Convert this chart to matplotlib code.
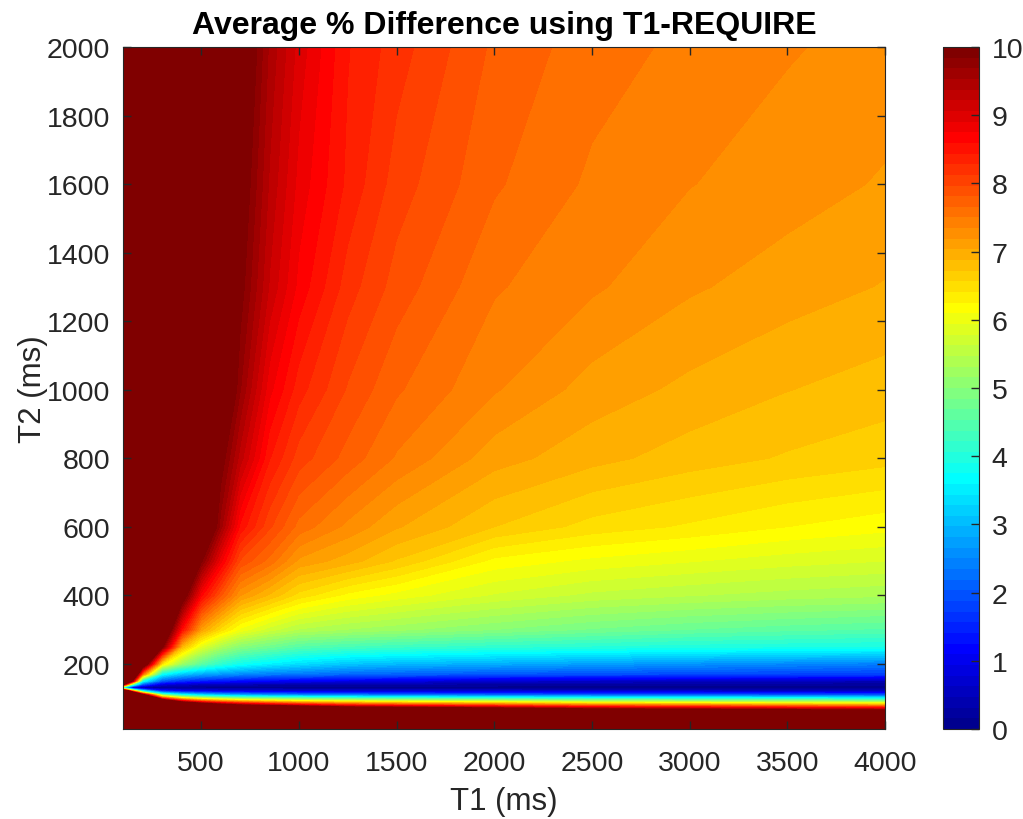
import numpy as np
import matplotlib
matplotlib.use('Agg')
import matplotlib.pyplot as plt
from matplotlib.colors import ListedColormap, Normalize
from matplotlib.cm import ScalarMappable

plt.rcParams['font.family'] = ['Liberation Sans', 'DejaVu Sans']

# grid (T1 across, T2 down the rows), values in %
t1 = [100, 150, 200, 300, 400, 500, 600, 700, 850, 1000, 1250, 1500, 2000, 2500, 3000, 3500, 4000]
t2 = [10, 50, 60, 70, 80, 90, 100, 110, 120, 130, 140, 150, 170, 200, 250, 300, 400, 500, 600, 800, 1000, 1300, 1600, 2000]

z_rows = {
    2000: [15, 15, 15, 14, 13, 12, 11, 10.3, 9.5, 9.0, 8.45, 8.2, 7.78, 7.57, 7.46, 7.36, 7.28],
    1600: [15, 15, 15, 14, 13, 12, 11, 10.1, 9.35, 8.85, 8.4, 8.05, 7.68, 7.47, 7.35, 7.26, 7.17],
    1300: [15, 15, 15, 14, 13, 12, 11, 9.95, 9.2, 8.7, 8.2, 7.9, 7.52, 7.37, 7.21, 7.11, 7.02],
    1000: [15, 15, 14, 13, 12, 11.5, 10.5, 9.7, 8.8, 8.35, 7.95, 7.68, 7.36, 7.12, 6.99, 6.88, 6.8],
    800:  [15, 15, 14, 13, 12, 11, 10.0, 9.3, 8.45, 8.05, 7.75, 7.48, 7.1, 6.93, 6.8, 6.7, 6.62],
    600:  [15, 14, 13, 12, 11.5, 10.8, 9.6, 8.55, 8.0, 7.6, 7.3, 7.05, 6.72, 6.5, 6.38, 6.25, 6.15],
    500:  [15, 14, 13, 12.5, 12, 9.9, 8.8, 7.95, 7.6, 7.15, 6.95, 6.7, 6.2, 6.05, 5.95, 5.85, 5.78],
    400:  [15, 14, 13.5, 13, 10.3, 8.65, 7.85, 7.2, 6.85, 6.5, 6.2, 6.03, 5.76, 5.58, 5.48, 5.4, 5.34],
    300:  [15, 14.5, 14, 11, 8.6, 7.1, 6.5, 6.05, 5.7, 5.45, 5.3, 5.2, 5.0, 4.82, 4.68, 4.58, 4.5],
    250:  [15, 15, 13, 10.0, 6.9, 5.9, 5.35, 5.0, 4.75, 4.5, 4.35, 4.25, 4.12, 4.03, 3.96, 3.92, 3.88],
    200:  [15, 14, 11, 6.4, 5.2, 4.55, 4.1, 3.8, 3.55, 3.35, 3.1, 2.98, 2.85, 2.72, 2.6, 2.5, 2.4],
    170:  [14, 12, 7.6, 3.7, 3.1, 2.8, 2.65, 2.5, 2.35, 2.3, 2.15, 2.08, 1.97, 1.9, 1.85, 1.8, 1.76],
    150:  [12, 9.5, 3.8, 2.0, 1.6, 1.4, 1.3, 1.2, 1.1, 1.0, 0.92, 0.85, 0.65, 0.6, 0.55, 0.5, 0.45],
    140:  [10, 4.5, 2.0, 0.8, 0.6, 0.5, 0.45, 0.4, 0.35, 0.32, 0.3, 0.28, 0.25, 0.22, 0.2, 0.2, 0.2],
    130:  [3.5, 0.3, 0.1, 0.05, 0.05, 0.05, 0.05, 0.05, 0.05, 0.05, 0.05, 0.05, 0.05, 0.05, 0.05, 0.05, 0.05],
    120:  [14, 7.8, 4.0, 1.6, 1.2, 1.05, 0.95, 0.9, 0.85, 0.8, 0.78, 0.75, 0.72, 0.7, 0.68, 0.66, 0.65],
    110:  [15, 15, 10, 4.7, 3.6, 3.1, 2.8, 2.6, 2.4, 2.3, 2.2, 2.1, 2.0, 1.95, 1.9, 1.85, 1.8],
    100:  [15, 15, 15, 8.1, 6.3, 5.6, 5.2, 4.9, 4.7, 4.5, 4.3, 4.2, 4.0, 3.8, 3.8, 3.7, 3.6],
    90:   [15, 15, 15, 12, 9.3, 8.2, 7.6, 7.2, 6.8, 6.5, 6.2, 6.0, 5.8, 5.5, 5.4, 5.3, 5.2],
    80:   [15, 15, 15, 15, 13, 11.3, 10.3, 9.7, 9.2, 8.8, 8.3, 8.1, 7.8, 7.4, 7.3, 7.1, 7.0],
    70:   [15, 15, 15, 15, 15, 15, 14, 13, 12, 11.8, 10.7, 10.5, 10.0, 9.5, 9.3, 9.1, 8.9],
    60:   [15, 15, 15, 15, 15, 15, 15, 15, 15, 15, 13.0, 12.5, 11.8, 11.2, 11.0, 10.8, 10.6],
    50:   [15, 15, 15, 15, 15, 15, 15, 15, 15, 15, 15, 15, 15, 14.4, 14.1, 13.7, 13.4],
    10:   [15, 15, 15, 15, 15, 15, 15, 15, 15, 15, 15, 15, 15, 15, 15, 15, 15],
}
Z = np.array([z_rows[v] for v in t2])

# MATLAB style jet(64)
m = 64
n = m // 4
u = np.concatenate([np.arange(1, n + 1) / n, np.ones(n - 1), np.arange(n, 0, -1) / n])
g = n // 2 + np.arange(1, len(u) + 1) - 1
r = g + n
b = g - n
jet = np.zeros((m, 3))
jet[g[g < m], 1] = u[g < m]
jet[r[r < m], 0] = u[r < m]
jet[b[b >= 0], 2] = u[b >= 0]
cmap = ListedColormap(jet)
cmap.set_over(jet[-1])
cmap.set_under(jet[0])

fig = plt.figure(figsize=(10.23, 8.2), dpi=100)
ax = fig.add_axes([0.1202, 0.1098, 0.7449, 0.8317])
cax = fig.add_axes([0.9218, 0.1098, 0.0352, 0.8317])

levels = np.linspace(0, 10, m + 1)
ax.contourf(t1, t2, Z, levels=levels, cmap=cmap, extend='both', antialiased=False)

ax.set_xlim(100, 4000)
ax.set_ylim(10, 2000)
ax.set_xticks(np.arange(500, 4001, 500))
ax.set_yticks(np.arange(200, 2001, 200))
tc = '#262626'
ax.tick_params(direction='in', length=6, width=1, top=True, right=True,
               labelsize=20.5, colors=tc)
ax.tick_params(axis='x', pad=15)
ax.tick_params(axis='y', pad=9)
for s in ax.spines.values():
    s.set_color(tc)
    s.set_linewidth(0.8)
ax.set_xlabel('T1 (ms)', fontsize=22.5, color=tc, labelpad=7)
ax.set_ylabel('T2 (ms)', fontsize=22.5, color=tc, labelpad=-1)
ax.set_title('Average % Difference using T1-REQUIRE', fontsize=23, fontweight='bold', pad=10)

sm = ScalarMappable(norm=Normalize(0, 10), cmap=cmap)
cb = fig.colorbar(sm, cax=cax, ticks=np.arange(0, 11, 1))
cb.ax.tick_params(direction='in', length=6, width=1, labelsize=20.5, colors=tc, pad=9)
cb.outline.set_edgecolor(tc)
cb.outline.set_linewidth(0.8)

fig.savefig('out.png', dpi=100)
